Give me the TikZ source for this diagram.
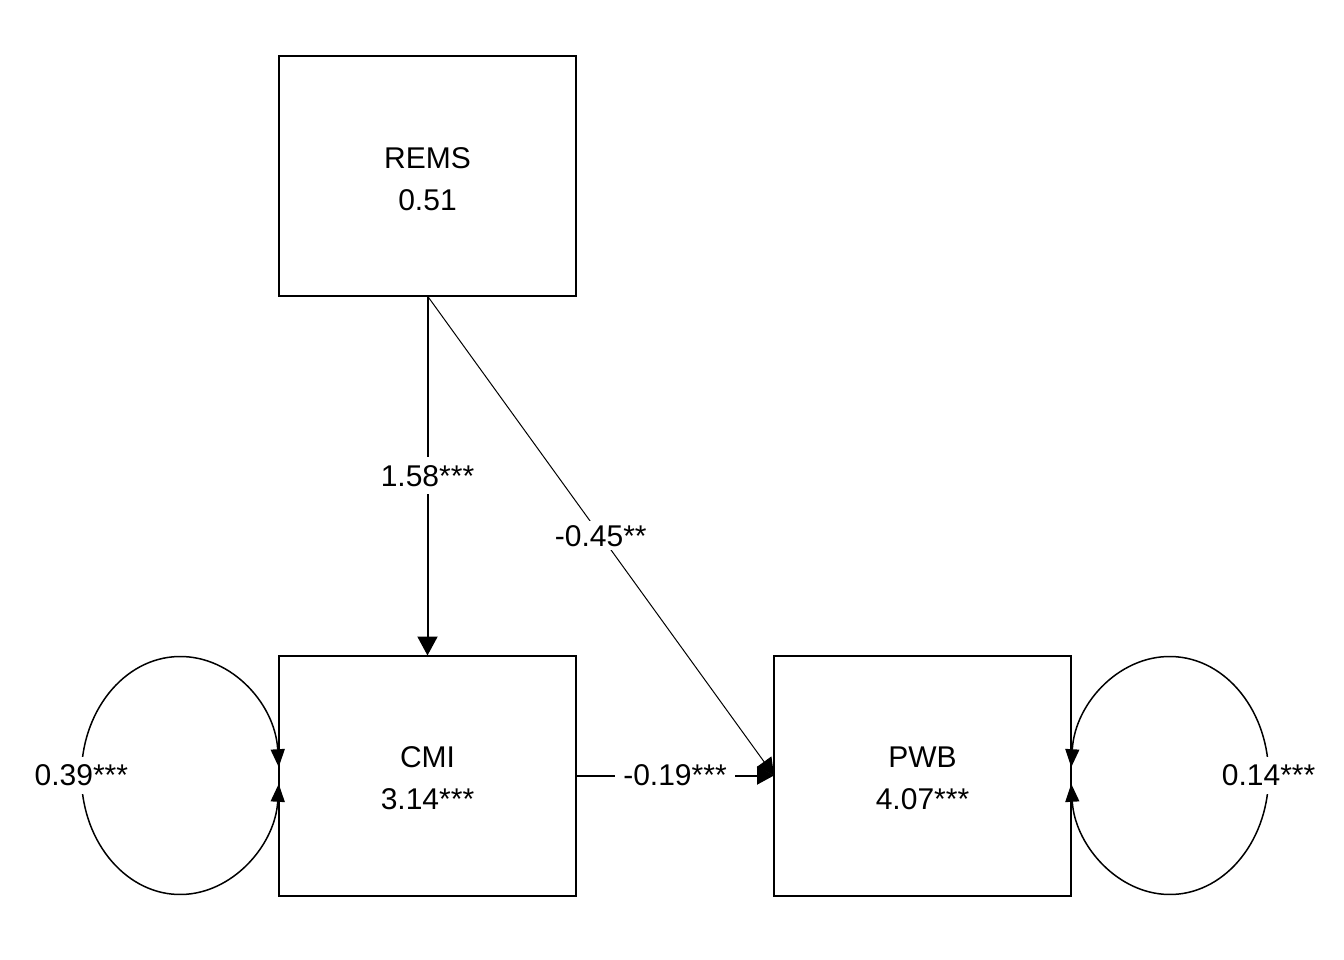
\documentclass[tikz,border=0pt]{standalone}
\usepackage{fontspec}
\setmainfont{Liberation Sans}
\usetikzlibrary{arrows.meta}
% lower a line of text a little while keeping its reported size
\newcommand\lowtext[1]{\raisebox{-3pt}[\height][\depth]{#1}}
\begin{document}
\begin{tikzpicture}[x=1pt,y=-1pt,
  font=\fontsize{30}{42}\selectfont,
  var/.style={draw,line width=2pt,minimum width=297pt,minimum height=240pt,
    align=center,inner sep=0pt,outer sep=0pt},
  lbl/.style={fill=white,inner sep=8pt},
  path/.style={line width=2pt,-{Triangle[length=19pt,width=20pt]}},
  thinpath/.style={line width=1pt,-{Triangle[length=17pt,width=18pt]}},
  resid/.style={line width=1.5pt,{Triangle[length=18pt,width=14pt]}-{Triangle[length=18pt,width=14pt]}}]
  \useasboundingbox (0,0) rectangle (1344,960);

  % observed variables
  \node[var] (rems) at (427.5,176) {\lowtext{REMS}\\\lowtext{0.51}};
  \node[var] (cmi)  at (427.5,775.5) {\lowtext{CMI}\\\lowtext{3.14***}};
  \node[var] (pwb)  at (922.5,775.5) {\lowtext{PWB}\\\lowtext{4.07***}};

  % regression paths
  \draw[path] (rems.south) -- node[lbl] {1.58***} (cmi.north);
  \draw[thinpath] (rems.south) -- node[lbl,inner sep=4pt] {-0.45**} (pwb.west);
  \draw[line width=2pt,-{Triangle[length=17pt,width=18pt]}] (cmi.east) -- node[lbl] {-0.19***} (pwb.west);

  % residual variances
  \coordinate (cl) at ([xshift=-98.8pt]cmi.west);
  \draw[resid] ([shift={(4:98.8pt and 119pt)}]cl)
    arc[start angle=4,end angle=356,x radius=98.8pt,y radius=119pt]
    node[pos=0.5,lbl] {0.39***};
  \coordinate (cr) at ([xshift=98.8pt]pwb.east);
  \draw[resid] ([shift={(176:98.8pt and 119pt)}]cr)
    arc[start angle=176,end angle=-176,x radius=98.8pt,y radius=119pt]
    node[pos=0.5,lbl] {0.14***};
\end{tikzpicture}
\end{document}
